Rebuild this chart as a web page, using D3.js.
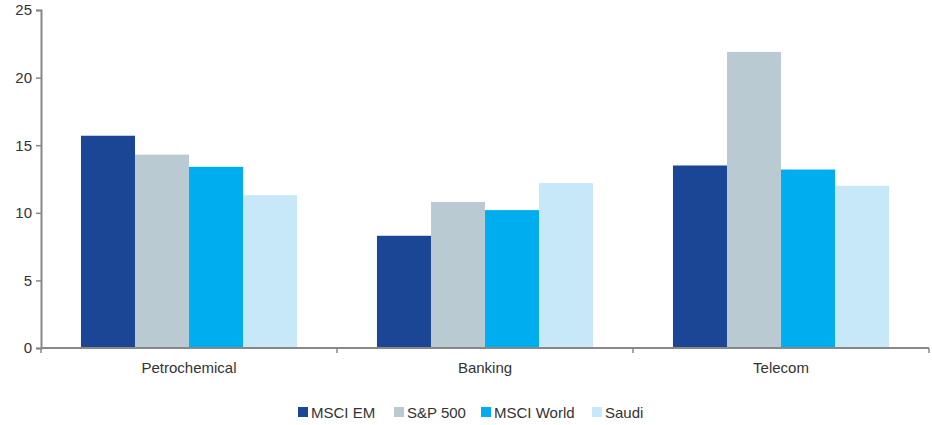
<!DOCTYPE html>
<html>
<head>
<meta charset="utf-8">
<script src="https://cdn.jsdelivr.net/npm/d3@7"></script>
<style>
  body { margin: 0; background: #fff; }
  text { font-family: "Liberation Sans", Arial, sans-serif; fill: #333; }
</style>
</head>
<body>
<div id="chart"></div>
<script>
const categories = ["Petrochemical", "Banking", "Telecom"];
const seriesNames = ["MSCI EM", "S&P 500", "MSCI World", "Saudi"];
const msciEm = [15.7, 8.3, 13.5];
const sp500 = [14.3, 10.8, 21.9];
const msciWorld = [13.4, 10.2, 13.2];
const saudi = [11.3, 12.2, 12.0];
const yTicks = [0, 5, 10, 15, 20, 25];
const colors = ["#1b4595", "#b9cad3", "#00aeef", "#c6e8f8"];

const width = 932, height = 425;
const margin = { top: 10, left: 41, right: 3, bottom: 77 };

const seriesValues = [msciEm, sp500, msciWorld, saudi];
const rows = categories.map((c, i) => ({
  cat: c,
  vals: seriesNames.map((s, j) => ({ key: s, value: seriesValues[j][i] }))
}));

const svg = d3.select("#chart").append("svg")
  .attr("width", width)
  .attr("height", height);

const x = d3.scaleBand()
  .domain(categories)
  .range([margin.left, width - margin.right]);

const x1 = d3.scaleBand()
  .domain(seriesNames)
  .range([0, x.bandwidth()])
  .paddingInner(0)
  .paddingOuter(0.74);

const y = d3.scaleLinear()
  .domain([0, 25])
  .range([height - margin.bottom, margin.top]);

// bars
svg.append("g")
  .selectAll("g")
  .data(rows)
  .enter()
  .append("g")
  .attr("transform", d => `translate(${x(d.cat)},0)`)
  .selectAll("rect")
  .data(d => d.vals)
  .enter()
  .append("rect")
    .attr("x", d => x1(d.key))
    .attr("y", d => y(d.value))
    .attr("width", x1.bandwidth())
    .attr("height", d => y(0) - y(d.value))
    .attr("fill", (d, i) => colors[i]);

// y axis
const yAxis = svg.append("g")
  .attr("transform", `translate(${margin.left},0)`)
  .call(d3.axisLeft(y).tickValues(yTicks).tickSize(5).tickPadding(4));
yAxis.select(".domain").attr("stroke", "#888").attr("stroke-width", 2);
yAxis.selectAll(".tick line").attr("stroke", "#888").attr("stroke-width", 1.5);
yAxis.selectAll("text").style("font-size", "15px").attr("fill", "#333");

// x axis with ticks at category boundaries
const xAxis = svg.append("g")
  .attr("transform", `translate(0,${y(0)})`);
xAxis.append("line")
  .attr("x1", margin.left).attr("x2", width - margin.right)
  .attr("stroke", "#888").attr("stroke-width", 2);
const bounds = categories.map(c => x(c)).concat([x(categories[categories.length - 1]) + x.bandwidth()]);
xAxis.selectAll(".bt")
  .data(bounds)
  .enter()
  .append("line")
  .attr("x1", d => d).attr("x2", d => d)
  .attr("y1", 0).attr("y2", 5)
  .attr("stroke", "#888").attr("stroke-width", 1.5);
xAxis.selectAll(".cl")
  .data(categories)
  .enter()
  .append("text")
  .attr("x", d => x(d) + x.bandwidth() / 2)
  .attr("y", 25)
  .attr("text-anchor", "middle")
  .style("font-size", "15px")
  .text(d => d);

// legend
const legendX = [298, 394, 481, 592];
const legend = svg.append("g").attr("transform", "translate(0,413)");
const li = legend.selectAll("g")
  .data(seriesNames)
  .enter()
  .append("g")
  .attr("transform", (d, i) => `translate(${legendX[i]},0)`);
li.append("rect")
  .attr("x", 0).attr("y", -6)
  .attr("width", 10).attr("height", 10)
  .attr("fill", (d, i) => colors[i]);
li.append("text")
  .attr("x", 13).attr("y", 5)
  .style("font-size", "15px")
  .text(d => d);
</script>
</body>
</html>
